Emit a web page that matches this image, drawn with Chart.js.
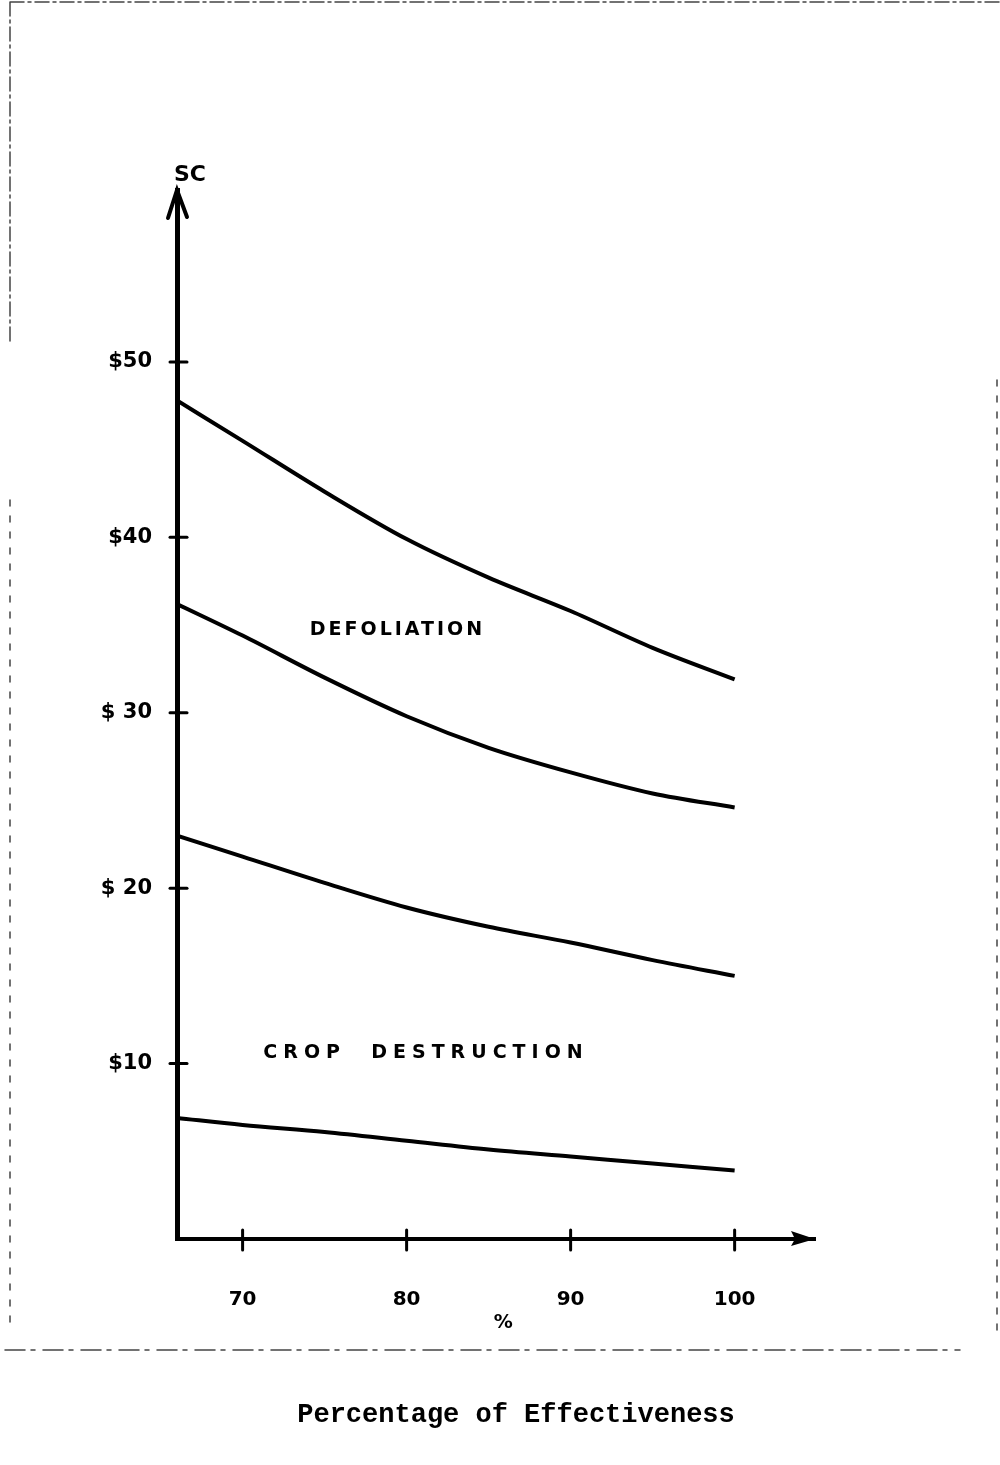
<!DOCTYPE html>
<html>
<head>
<meta charset="utf-8">
<title>Percentage of Effectiveness</title>
<script src="https://cdn.jsdelivr.net/npm/chart.js@4.4.1/dist/chart.umd.min.js"></script>
<style>
  body { margin: 0; background: #fff; }
  canvas { display: block; }
</style>
</head>
<body>
<canvas id="chart" width="1000" height="1465"></canvas>
<script>
// percentage of effectiveness (x)
const pct = [66, 70, 75, 80, 85, 90, 95, 100];
// cost curves ($)
const defoliationHigh = [47.8, 45.5, 42.6, 39.9, 37.7, 35.8, 33.7, 31.9];
const defoliationLow  = [36.2, 34.4, 32.0, 29.8, 28.0, 26.6, 25.4, 24.6];
const cropHigh        = [23.0, 21.8, 20.3, 18.9, 17.8, 16.9, 15.9, 15.0];
const cropLow         = [6.9, 6.5, 6.1, 5.6, 5.1, 4.7, 4.3, 3.9];

const xTickValues = [70, 80, 90, 100];
const yTickValues = [10, 20, 30, 40, 50];
const yTickLabels = ['$10', '$ 20', '$ 30', '$40', '$50'];

const yTitle = 'SC';
const xTitle = '%';
const caption = 'Percentage of Effectiveness';
const regionLabels = [
  { text: 'DEFOLIATION', x: 79.35, y: 34.7, spacing: 3 },
  { text: 'CROP  DESTRUCTION', x: 81.0, y: 10.6, spacing: 6 }
];

function series(ys) {
  return ys.map((y, i) => ({ x: pct[i], y: y }));
}

const lineStyle = {
  borderColor: '#000',
  borderWidth: 4,
  pointRadius: 0,
  fill: false,
  cubicInterpolationMode: 'monotone'
};

const decorations = {
  id: 'decorations',
  afterDraw(chart) {
    const ctx = chart.ctx;
    const a = chart.chartArea;
    const xs = chart.scales.x, ys = chart.scales.y;
    ctx.save();
    ctx.fillStyle = '#000';
    ctx.strokeStyle = '#000';

    // arrow on y axis
    ctx.lineWidth = 4;
    ctx.lineCap = 'round';
    ctx.beginPath();
    ctx.moveTo(a.left - 9, a.top + 28);
    ctx.lineTo(a.left, a.top);
    ctx.lineTo(a.left + 10, a.top + 27);
    ctx.stroke();
    // arrow on x axis
    ctx.beginPath();
    ctx.moveTo(a.right, a.bottom);
    ctx.lineTo(a.right - 24, a.bottom - 8);
    ctx.lineTo(a.right - 20, a.bottom);
    ctx.lineTo(a.right - 24, a.bottom + 7);
    ctx.closePath();
    ctx.fill();

    // cross ticks
    ctx.lineWidth = 3;
    yTickValues.forEach(v => {
      const py = ys.getPixelForValue(v);
      ctx.beginPath();
      ctx.moveTo(a.left - 7, py);
      ctx.lineTo(a.left + 10, py);
      ctx.stroke();
    });
    xTickValues.forEach(v => {
      const px = xs.getPixelForValue(v);
      ctx.beginPath();
      ctx.moveTo(px, a.bottom - 9);
      ctx.lineTo(px, a.bottom + 11);
      ctx.stroke();
    });

    // axis titles
    ctx.textAlign = 'center';
    ctx.textBaseline = 'middle';
    ctx.font = 'bold 22px "DejaVu Sans"';
    ctx.fillText(yTitle, a.left + 13, a.top - 15);
    ctx.font = 'bold 19px "DejaVu Sans"';
    ctx.fillText(xTitle, xs.getPixelForValue(85.9), a.bottom + 84);

    // region labels
    ctx.font = 'bold 19px "DejaVu Sans"';
    regionLabels.forEach(l => {
      ctx.letterSpacing = l.spacing + 'px';
      ctx.fillText(l.text, xs.getPixelForValue(l.x) + l.spacing / 2, ys.getPixelForValue(l.y));
    });
    ctx.letterSpacing = '0px';

    // caption
    ctx.font = 'bold 27px "Liberation Mono"';
    ctx.textBaseline = 'alphabetic';
    ctx.fillText(caption, 516, 1422);

    // scanned page frame
    ctx.strokeStyle = '#444';
    ctx.lineWidth = 1.5;
    ctx.setLineDash([14, 4, 3, 4]);
    ctx.beginPath();
    ctx.moveTo(10, 2); ctx.lineTo(1000, 2);
    ctx.moveTo(10, 2); ctx.lineTo(10, 345);
    ctx.stroke();
    ctx.setLineDash([6, 10]);
    ctx.beginPath();
    ctx.moveTo(10, 500); ctx.lineTo(10, 1330);
    ctx.moveTo(997, 380); ctx.lineTo(997, 1330);
    ctx.stroke();
    ctx.setLineDash([20, 6, 4, 8]);
    ctx.beginPath();
    ctx.moveTo(5, 1350); ctx.lineTo(960, 1350);
    ctx.stroke();
    ctx.restore();
  }
};

new Chart(document.getElementById('chart'), {
  type: 'line',
  data: {
    datasets: [
      Object.assign({ label: 'Defoliation high', data: series(defoliationHigh) }, lineStyle),
      Object.assign({ label: 'Defoliation low', data: series(defoliationLow) }, lineStyle),
      Object.assign({ label: 'Crop destruction high', data: series(cropHigh) }, lineStyle),
      Object.assign({ label: 'Crop destruction low', data: series(cropLow) }, lineStyle)
    ]
  },
  options: {
    responsive: false,
    animation: false,
    devicePixelRatio: 1,
    layout: { padding: { left: 0, top: 190, right: 185, bottom: 126 } },
    plugins: {
      legend: { display: false },
      tooltip: { enabled: false }
    },
    scales: {
      x: {
        type: 'linear',
        min: 66,
        max: 104.9,
        grid: { display: false },
        border: { color: '#000', width: 4 },
        afterFit: s => { s.height = 100; },
        afterBuildTicks: s => { s.ticks = xTickValues.map(v => ({ value: v })); },
        ticks: {
          color: '#000',
          padding: 41,
          maxRotation: 0,
          font: { family: 'DejaVu Sans', weight: 'bold', size: 20 }
        }
      },
      y: {
        type: 'linear',
        min: 0,
        max: 59.8,
        grid: { display: false },
        border: { color: '#000', width: 5 },
        afterFit: s => { s.width = 177; },
        afterBuildTicks: s => { s.ticks = yTickValues.map(v => ({ value: v })); },
        ticks: {
          color: '#000',
          padding: 17,
          font: { family: 'DejaVu Sans', weight: 'bold', size: 21 },
          callback: v => yTickLabels[yTickValues.indexOf(v)]
        }
      }
    }
  },
  plugins: [decorations]
});
</script>
</body>
</html>
